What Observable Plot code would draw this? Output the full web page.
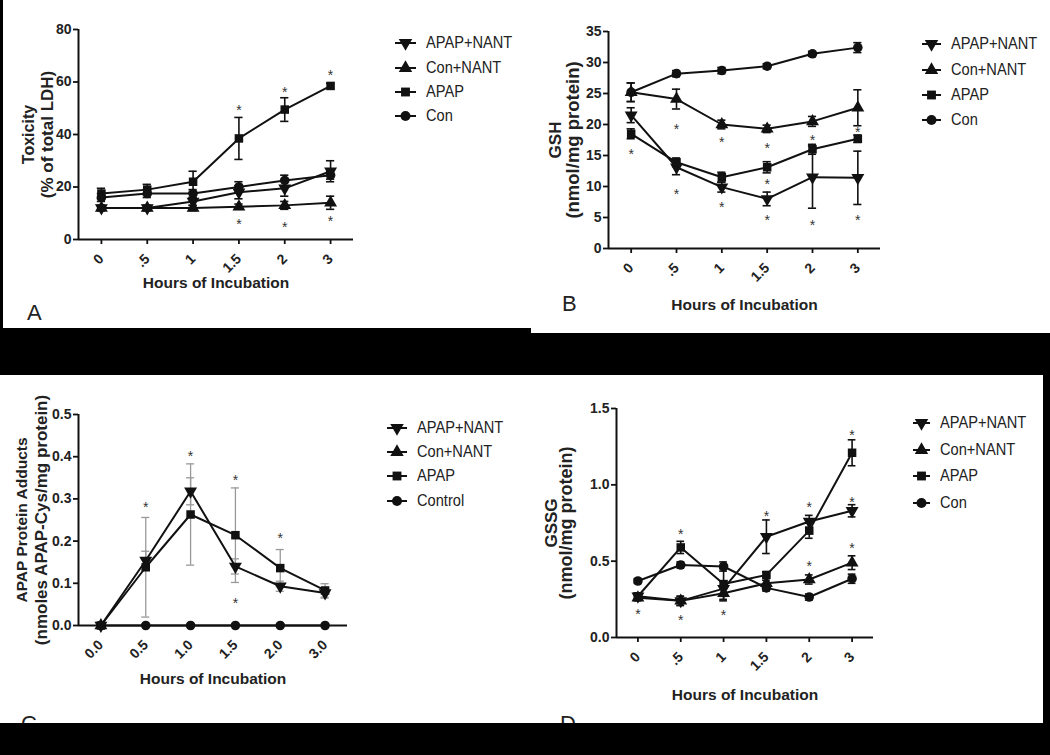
<!DOCTYPE html>
<html><head><meta charset="utf-8">
<script src="https://cdn.jsdelivr.net/npm/d3@7"></script>
<script src="https://cdn.jsdelivr.net/npm/@observablehq/plot@0.6"></script>
<style>
body{margin:0;background:#000;}
#fig{position:relative;width:1050px;height:755px;background:#000;overflow:hidden;font-family:"Liberation Sans",Arial,sans-serif;color:#222;}
.panel{position:absolute;background:#fff;overflow:hidden;}
.plotbox{position:absolute;}
.lrow{position:absolute;display:flex;align-items:center;white-space:nowrap;height:20px;}
.lrow span{display:inline-block;font-size:17px;transform:scaleX(0.86);transform-origin:left center;color:#222;}
.letter{position:absolute;font-size:22px;color:#222;line-height:1;}
</style></head><body><div id="fig"></div>
<script>
// ---------- categories ----------
const hours = ["0", ".5", "1", "1.5", "2", "3"];
const hoursC = ["0.0", "0.5", "1.0", "1.5", "2.0", "3.0"];
const seriesNames = ["APAP+NANT", "Con+NANT", "APAP", "Con"];
const seriesNamesC = ["APAP+NANT", "Con+NANT", "APAP", "Control"];

// ---------- Panel A: Toxicity (% of total LDH) ----------
const toxApapNant = [12, 12, 14.5, 18, 19.5, 26];
const toxConNant  = [12, 12, 12, 12.5, 13, 14];
const toxApap     = [17.5, 19, 22, 38.5, 49.5, 58.5];
const toxCon      = [16, 17.5, 17.5, 20, 22.5, 24.5];
const toxApapNantErr = [1, 1, 1.5, 2.5, 3, 4];
const toxConNantErr  = [1, 1, 1, 1, 1.5, 2.5];
const toxApapErr     = [2, 2, 4, 8, 4.5, 1];
const toxConErr      = [1.5, 1.5, 1.5, 2, 2, 1.5];
const starHoursA  = ["1.5", "2", "3", "1.5", "2", "3"];
const starValuesA = [50.8, 57.4, 64.1, 7.2, 6.2, 8.3];
const yTicksA = [0, 20, 40, 60, 80];

// ---------- Panel B: GSH (nmol/mg protein) ----------
const gshApapNant = [21.5, 13.1, 9.9, 8.0, 11.5, 11.4];
const gshConNant  = [25.2, 24.1, 20.0, 19.3, 20.5, 22.7];
const gshApap     = [18.5, 13.9, 11.5, 13.1, 16.0, 17.7];
const gshCon      = [25.2, 28.2, 28.7, 29.4, 31.4, 32.4];
const gshApapNantErr = [1.2, 1.2, 0.8, 1.1, 5.0, 4.3];
const gshConNantErr  = [1.5, 1.6, 0.7, 0.6, 0.8, 2.9];
const gshApapErr     = [0.8, 0.7, 0.8, 0.9, 0.8, 0.6];
const gshConErr      = [1.5, 0.5, 0.5, 0.4, 0.4, 0.8];
const starHoursB  = ["0", ".5", ".5", "1", "1", "1.5", "1.5", "1.5", "2", "2", "3", "3"];
const starValuesB = [15.8, 19.9, 9.4, 17.7, 7.2, 16.8, 10.9, 5.2, 18.0, 4.3, 19.3, 5.2];
const yTicksB = [0, 5, 10, 15, 20, 25, 30, 35];

// ---------- Panel C: APAP protein adducts ----------
const addApapNant = [0, 0.154, 0.318, 0.140, 0.093, 0.077];
const addConNant  = [0, null, null, null, null, null];
const addApap     = [0, 0.138, 0.263, 0.214, 0.136, 0.083];
const addControl  = [0, 0, 0, 0, 0, 0];
const addApapNantErr = [0, 0.022, 0.032, 0.018, 0.012, 0.012];
const addConNantErr  = [0, 0, 0, 0, 0, 0];
const addApapErr     = [0, 0.118, 0.12, 0.112, 0.044, 0.016];
const addControlErr  = [0, 0, 0, 0, 0, 0];
const starHoursC  = ["0.5", "1.0", "1.5", "1.5", "2.0"];
const starValuesC = [0.289, 0.411, 0.352, 0.061, 0.216];
const yTicksC = [0, 0.1, 0.2, 0.3, 0.4, 0.5];

// ---------- Panel D: GSSG (nmol/mg protein) ----------
const gssgApapNant = [0.27, 0.24, 0.32, 0.66, 0.76, 0.83];
const gssgConNant  = [0.26, 0.24, 0.29, 0.355, 0.38, 0.49];
const gssgApap     = [0.27, 0.59, 0.35, 0.41, 0.70, 1.21];
const gssgCon      = [0.37, 0.475, 0.465, 0.325, 0.265, 0.385];
const gssgApapNantErr = [0.02, 0.03, 0.05, 0.11, 0.04, 0.04];
const gssgConNantErr  = [0.02, 0.03, 0.05, 0.02, 0.03, 0.045];
const gssgApapErr     = [0.02, 0.04, 0.1, 0.02, 0.05, 0.085];
const gssgConErr      = [0.015, 0.02, 0.03, 0.02, 0.02, 0.03];
const starHoursD  = ["0", ".5", ".5", "1", "1.5", "2", "2", "3", "3", "3"];
const starValuesD = [0.18, 0.70, 0.136, 0.17, 0.82, 0.876, 0.49, 1.35, 0.91, 0.61];
const yTicksD = [0, 0.5, 1.0, 1.5];

// ---------- styling ----------
const symbolRange = ["triangle", "triangle", "square", "circle"];
const rotations = [180, 0, 0, 0];
const TEXT = "#222";
const FONT = "'Liberation Sans', Arial, sans-serif";

const fig = document.getElementById("fig");

function buildPanel(cfg) {
  const [px, py, pw, ph] = cfg.rect;
  const panel = document.createElement("div");
  panel.className = "panel";
  Object.assign(panel.style, {left: px + "px", top: py + "px", width: pw + "px", height: ph + "px"});
  fig.appendChild(panel);

  const [sx, sy, sw, sh] = cfg.svg;
  const [fx0, fy0, fx1, fy1] = cfg.frame;
  const labels = cfg.labels;
  const names = cfg.names;
  const rows = [];
  names.forEach((name, s) => {
    cfg.values[s].forEach((v, i) => rows.push({series: name, s, i, v, e: cfg.errors[s][i]}));
  });
  const errRows = rows.filter(d => d.v != null && d.e > 0);
  const stars = cfg.starHours.map((h, k) => ({i: labels.indexOf(h), v: cfg.starValues[k]}));
  const cap = 0.09;
  const n = labels.length;

  const chart = Plot.plot({
    width: sw, height: sh,
    marginLeft: fx0 - sx, marginTop: fy0 - sy,
    marginRight: sx + sw - fx1, marginBottom: sy + sh - fy1,
    style: {background: "transparent", color: TEXT, fontFamily: FONT, overflow: "visible"},
    x: {domain: [-0.5, n - 0.5], axis: null},
    y: {domain: cfg.yDomain, axis: null},
    symbol: {domain: names, range: symbolRange},
    marks: [
      Plot.ruleX(errRows, {x: "i", y1: d => d.v - d.e, y2: d => d.v + d.e, stroke: cfg.errColor, strokeWidth: cfg.errWidth}),
      Plot.ruleY(errRows, {y: d => d.v + d.e, x1: d => d.i - cap, x2: d => d.i + cap, stroke: cfg.errColor, strokeWidth: cfg.errWidth}),
      Plot.ruleY(errRows, {y: d => d.v - d.e, x1: d => d.i - cap, x2: d => d.i + cap, stroke: cfg.errColor, strokeWidth: cfg.errWidth}),
      Plot.line(rows, {x: "i", y: "v", z: "series", stroke: "#111", strokeWidth: 2}),
      Plot.dot(rows, {x: "i", y: "v", symbol: "series", rotate: d => rotations[d.s], fill: "#111", stroke: "none", r: 4.8}),
      Plot.text(stars, {x: "i", y: "v", text: () => "*", fontSize: 14, fill: "#333", dy: 4}),
      Plot.ruleY([cfg.yDomain[0]], {stroke: "#111", strokeWidth: 2}),
      Plot.ruleX([-0.5], {stroke: "#111", strokeWidth: 2}),
      Plot.axisY({ticks: cfg.yTicks, tickFormat: cfg.yFormat, tickSize: 5, tickPadding: 2, fontSize: 14, fontWeight: "bold", stroke: "#111", strokeWidth: 1.8, label: null}),
      Plot.axisX({ticks: d3.range(n), tickFormat: i => labels[i], tickSize: 5, tickPadding: 12, tickRotate: -45, fontSize: 14, fontWeight: "bold", stroke: "#111", strokeWidth: 1.8, label: null}),
      Plot.text(["Hours of Incubation"], {frameAnchor: "bottom", dy: cfg.xTitleDy, fontSize: 15.5, fontWeight: "bold", fill: TEXT, lineAnchor: "middle", textAnchor: "middle"}),
      Plot.text([cfg.yTitle1], {frameAnchor: "left", rotate: -90, dx: cfg.yTitleDx[0], fontSize: cfg.yTitleSize[0], fontWeight: "bold", fill: TEXT, lineAnchor: "middle", textAnchor: "middle"}),
      Plot.text([cfg.yTitle2], {frameAnchor: "left", rotate: -90, dx: cfg.yTitleDx[1], fontSize: cfg.yTitleSize[1], fontWeight: "bold", fill: TEXT, lineAnchor: "middle", textAnchor: "middle"})
    ]
  });
  const box = document.createElement("div");
  box.className = "plotbox";
  Object.assign(box.style, {left: (sx - px) + "px", top: (sy - py) + "px"});
  box.appendChild(chart);
  panel.appendChild(box);

  // legend (line + marker + label)
  const [lx, ltx, rowsY] = cfg.legend;
  names.forEach((name, s) => {
    const row = document.createElement("div");
    row.className = "lrow";
    Object.assign(row.style, {left: (lx - px) + "px", top: (rowsY[s] - 10 - py) + "px"});
    const w = ltx - lx;
    const svg = d3.create("svg").attr("width", w).attr("height", 20).style("flex", "none");
    svg.append("line").attr("x1", 0).attr("x2", w - 10).attr("y1", 10).attr("y2", 10).attr("stroke", "#111").attr("stroke-width", 2);
    const sym = {triangle: d3.symbolTriangle, square: d3.symbolSquare, circle: d3.symbolCircle}[symbolRange[s]];
    svg.append("path").attr("d", d3.symbol(sym, Math.PI * 5 * 5)())
      .attr("transform", `translate(${(w - 10) / 2},10) rotate(${rotations[s]})`).attr("fill", "#111");
    row.appendChild(svg.node());
    const span = document.createElement("span");
    span.textContent = name;
    row.appendChild(span);
    panel.appendChild(row);
  });

  const letter = document.createElement("div");
  letter.className = "letter";
  letter.textContent = cfg.letter;
  Object.assign(letter.style, {left: (cfg.letterPos[0] - px) + "px", top: (cfg.letterPos[1] - py) + "px"});
  panel.appendChild(letter);
}

buildPanel({
  rect: [3, 0, 528, 328], svg: [0, 0, 380, 330], frame: [78, 29, 353, 239],
  labels: hours, names: seriesNames,
  values: [toxApapNant, toxConNant, toxApap, toxCon],
  errors: [toxApapNantErr, toxConNantErr, toxApapErr, toxConErr],
  starHours: starHoursA, starValues: starValuesA,
  yDomain: [0, 80], yTicks: yTicksA, yFormat: d3.format("d"),
  errColor: "#111", errWidth: 1.6,
  xTitleDy: 44, yTitle1: "Toxicity", yTitle2: "(% of total LDH)", yTitleDx: [-50, -31], yTitleSize: [16, 17],
  legend: [395, 426, [43, 68, 92, 116]], letter: "A", letterPos: [27, 302]
});
buildPanel({
  rect: [531, 0, 519, 333], svg: [531, 0, 380, 333], frame: [608, 31, 880, 248],
  labels: hours, names: seriesNames,
  values: [gshApapNant, gshConNant, gshApap, gshCon],
  errors: [gshApapNantErr, gshConNantErr, gshApapErr, gshConErr],
  starHours: starHoursB, starValues: starValuesB,
  yDomain: [0, 35], yTicks: yTicksB, yFormat: d3.format("d"),
  errColor: "#111", errWidth: 1.6,
  xTitleDy: 57, yTitle1: "GSH", yTitle2: "(nmol/mg protein)", yTitleDx: [-53, -35], yTitleSize: [17, 18.5],
  legend: [922, 951, [44, 70, 95, 120]], letter: "B", letterPos: [562, 293]
});
buildPanel({
  rect: [0, 375, 525, 348], svg: [0, 375, 380, 348], frame: [78, 414, 347, 625],
  labels: hoursC, names: seriesNamesC,
  values: [addApapNant, addConNant, addApap, addControl],
  errors: [addApapNantErr, addConNantErr, addApapErr, addControlErr],
  starHours: starHoursC, starValues: starValuesC,
  yDomain: [0, 0.5], yTicks: yTicksC, yFormat: d3.format(".1f"),
  errColor: "#999", errWidth: 1.3,
  xTitleDy: 54, yTitle1: "APAP Protein Adducts", yTitle2: "(nmoles APAP-Cys/mg protein)", yTitleDx: [-56, -37], yTitleSize: [15.5, 17],
  legend: [387, 417, [428, 452, 476, 501]], letter: "C", letterPos: [21, 713]
});
buildPanel({
  rect: [525, 375, 518, 348], svg: [525, 375, 380, 348], frame: [616, 408, 873, 637],
  labels: hours, names: seriesNames,
  values: [gssgApapNant, gssgConNant, gssgApap, gssgCon],
  errors: [gssgApapNantErr, gssgConNantErr, gssgApapErr, gssgConErr],
  starHours: starHoursD, starValues: starValuesD,
  yDomain: [0, 1.5], yTicks: yTicksD, yFormat: d3.format(".1f"),
  errColor: "#111", errWidth: 1.6,
  xTitleDy: 58, yTitle1: "GSSG", yTitle2: "(nmol/mg protein)", yTitleDx: [-65, -50], yTitleSize: [17, 18],
  legend: [913, 940, [423, 450, 476, 503]], letter: "D", letterPos: [560, 713]
});
</script></body></html>
